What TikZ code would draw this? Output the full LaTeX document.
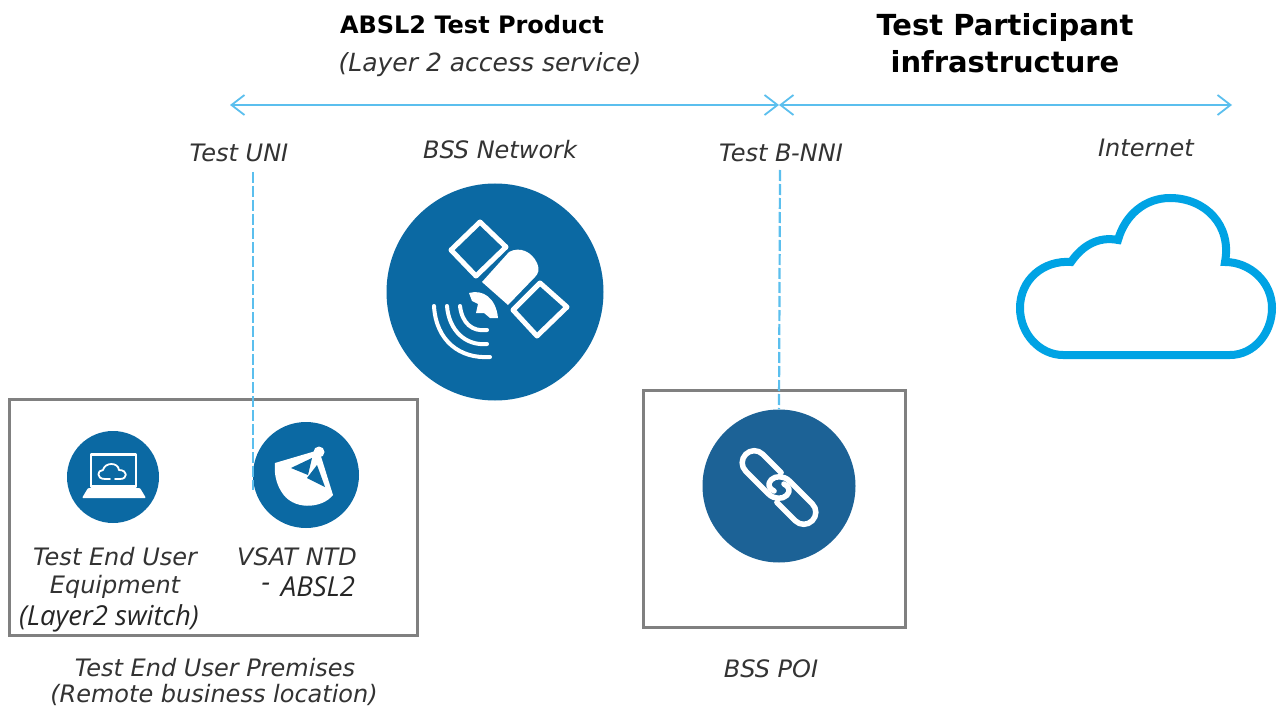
\documentclass[tikz,border=0pt]{standalone}
\usepackage{fontspec}
\setmainfont{DejaVu Sans}
\newfontfamily\opensans{Open Sans}
\usetikzlibrary{arrows.meta}
\definecolor{lineblue}{HTML}{5BBFEE}
\definecolor{cloudblue}{HTML}{00A3E4}
\definecolor{discblue}{HTML}{0B69A3}
\definecolor{linkblue}{HTML}{1C6296}
\definecolor{boxgray}{HTML}{808080}
\definecolor{txtgray}{HTML}{333333}
\tikzset{
  lbl/.style={font=\fontsize{24}{27}\selectfont\itshape,text=txtgray,inner sep=0pt,anchor=center},
  lblsm/.style={font=\fontsize{27.5}{30}\selectfont\opensans\itshape,text=black!85,inner sep=0pt,anchor=center},
  ttl/.style={font=\fontsize{24}{27}\selectfont\bfseries,text=black,inner sep=0pt,anchor=center},
  ttlbig/.style={font=\fontsize{29}{33}\selectfont\bfseries,text=black,inner sep=0pt,anchor=center},
  frame/.style={draw=boxgray,line width=3pt,fill=none},
  span/.style={draw=lineblue,line width=1.8pt,{Straight Barb[length=13pt,width=20pt,line width=1.8pt]}-{Straight Barb[length=13pt,width=20pt,line width=1.8pt]}},
  drop/.style={draw=lineblue,line width=2.2pt,dash pattern=on 11pt off 3pt},
  disc/.style={circle,inner sep=0pt,draw=none},
  ico/.style={draw=white,line join=round,line cap=round}
}
\begin{document}
\begin{tikzpicture}[x=1pt,y=-1pt]
\useasboundingbox (0,0) rectangle (1278,706);
\fill[white] (0,0) rectangle (1278,706);
% frames
\node[frame,minimum width=408pt,minimum height=236pt,inner sep=0pt] (premises) at (213,517) {};
\node[frame,minimum width=262pt,minimum height=237pt,inner sep=0pt] (poi) at (774,508.5) {};
% discs
\node[disc,fill=discblue,minimum size=217pt] (sat) at (495,292) {};
\node[disc,fill=discblue,minimum size=92pt] (laptop) at (113,477) {};
\node[disc,fill=discblue,minimum size=106pt] (dish) at (306,475) {};
\node[disc,fill=linkblue,minimum size=153pt] (link) at (779,486) {};
% labels
\node[ttl] (t1) at (472,25) {ABSL2 Test Product};
\node[lbl,font=\fontsize{25}{28}\selectfont\itshape] (t2) at (490,64.5) {(Layer 2 access service)};
\node[ttlbig] (t3) at (1005,27.5) {Test Participant};
\node[ttlbig] (t4) at (1005,62) {infrastructure};
\node[lbl] (uni) at (239,153) {Test UNI};
\node[lbl] (bss) at (500,150) {BSS Network};
\node[lbl] (nni) at (781,153) {Test B-NNI};
\node[lbl] (inet) at (1146,148) {Internet};
\node[lbl] (e1) at (115,557) {Test End User};
\node[lbl] (e2) at (115,586.5) {Equipment};
\node[lblsm] (e3) at (109,618.5) {(Layer2 switch)};
\node[lbl] (v1) at (297,557) {VSAT NTD};
\node[lblsm] (v2) at (266,587) {-};
\node[lblsm] (v3) at (318,587) {ABSL2};
\node[lbl] (p1) at (215,668) {Test End User Premises};
\node[lbl] (p2) at (214,695) {(Remote business location)};
\node[lbl] (p3) at (771,669) {BSS POI};
% arrows
\coordinate (a1) at (230,105);
\coordinate (a2) at (779,105);
\coordinate (a3) at (1232,105);
\draw[span] (a1) -- (a2);
\draw[span] (a2) -- (a3);
% dashed drops
\coordinate (uniTop) at (253,172);
\coordinate (dishLeft) at (253,490);
\draw[drop] (uniTop) -- (dishLeft);
\coordinate (nniTop) at (780,170);
\draw[drop] (nniTop) -- (link.north);
% satellite icon
\draw[ico,line width=5pt] (480,222) -- (506,247) -- (476,276) -- (451,250) -- cycle;
\draw[ico,line width=5pt] (540,283) -- (567,307) -- (537,336) -- (513,310) -- cycle;
\fill[white] (482,282) -- (509,252) .. controls (520,246) and (532,252) .. (537,263) .. controls (540,270) and (538,274) .. (535,277) -- (508,305) -- cycle;
\fill[white] (469,293) .. controls (483,289) and (496,298) .. (498,318) -- (490,318) -- (484,313) -- (476,313) -- (478,304) -- (472,301) -- cycle;
\draw[white,line width=4pt,line cap=round] (460,306) .. controls (462,323) and (472,332) .. (487,330);
\draw[white,line width=4pt,line cap=round] (447,306) .. controls (449,331) and (466,346) .. (487,344);
\draw[white,line width=4pt,line cap=round] (434,306) .. controls (436,341) and (460,359) .. (490,357);
% laptop icon
\draw[ico,line width=2.5pt] (91,454.5) rectangle (136,486.5);
\fill[white,rounded corners=1pt] (88,488) -- (140,488) -- (146,498) -- (82,498) -- cycle;
\draw[ico,line width=1.8pt] (110,479) -- (105,479) .. controls (96,479) and (97,470) .. (103,470) .. controls (105,462) and (118,462) .. (119,470) .. controls (128,470) and (128,479) .. (120,479) -- (115,479);
% dish icon
\fill[white] (275,463) -- (319,450) -- (333,495) .. controls (322,509) and (292,511) .. (281,491) .. controls (276,483) and (274,473) .. (275,463) -- cycle;
\fill[white] (319,452) circle (5.5pt);
\fill[discblue] (291,468) -- (312,458) -- (308,475) -- cycle;
\fill[discblue] (307,478) -- (317,465) -- (325,487) -- cycle;
% link icon
\begin{scope}[shift={(779,487.5)},rotate=-45,line cap=round,line join=round]
\draw[white,line width=5.5pt] (-9,-12) -- (-35,-12) .. controls (-42,-12) and (-47,-6.5) .. (-47,0) .. controls (-47,6.5) and (-42,12) .. (-35,12) -- (-3,12) .. controls (5,12) and (11,6) .. (11,0) .. controls (11,-6) and (6,-8) .. (1,-6);
\draw[white,line width=5.5pt] (9,12) -- (35,12) .. controls (42,12) and (47,6.5) .. (47,0) .. controls (47,-6.5) and (42,-12) .. (35,-12) -- (3,-12) .. controls (-5,-12) and (-11,-6) .. (-11,0) .. controls (-11,6) and (-6,8) .. (-1,6);
\end{scope}
% cloud
\draw[cloudblue,line width=8pt,line join=miter]
  (1063,355) -- (1230,355)
  .. controls (1254,355) and (1272,333) .. (1272,308)
  .. controls (1272,282) and (1250,262) .. (1225,262)
  .. controls (1232,225) and (1205,198) .. (1170,198)
  .. controls (1145,198) and (1125,215) .. (1118,240)
  .. controls (1098,236) and (1082,246) .. (1071,262)
  .. controls (1043,260) and (1020,280) .. (1020,308)
  .. controls (1020,334) and (1040,355) .. (1063,355) -- cycle;
\end{tikzpicture}
\end{document}
